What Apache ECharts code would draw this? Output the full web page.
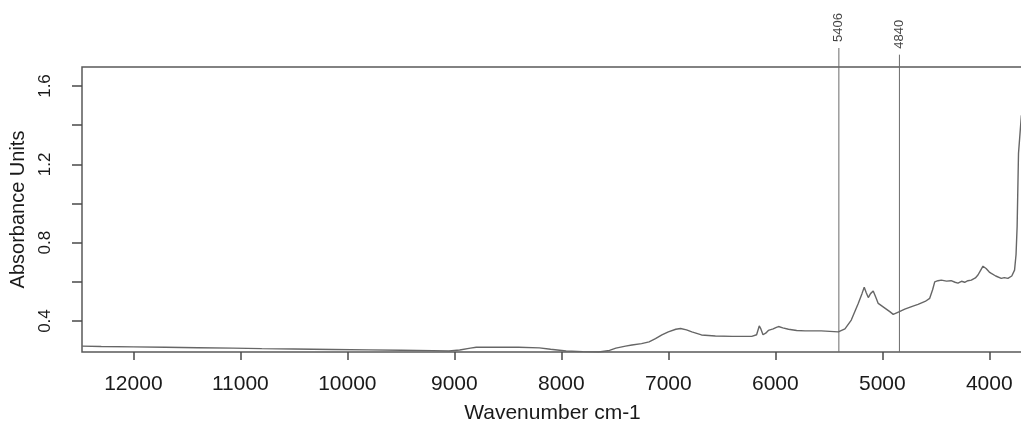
<!DOCTYPE html>
<html>
<head>
<meta charset="utf-8">
<script src="https://cdn.jsdelivr.net/npm/echarts@6/dist/echarts.min.js"></script>
<style>
  html, body { margin: 0; padding: 0; background: #fff; }
  #main { width: 1021px; height: 429px; }
</style>
</head>
<body>
<div id="main"></div>
<script>
// spectrum: wavenumber (cm-1) and absorbance
const wavenumbers = [
  12480, 12300, 12000, 11700, 11400, 11070, 10800, 10500, 10140, 9800,
  9500, 9200, 9050, 8950, 8850, 8795, 8600, 8400, 8205, 8100,
  7955, 7800, 7650, 7550, 7490, 7400, 7340, 7250, 7180, 7120,
  7060, 7000, 6930, 6885, 6830, 6780, 6690, 6560, 6400, 6220,
  6175, 6150, 6135, 6115, 6090, 6065, 6020, 5990, 5970, 5930,
  5877, 5800, 5722, 5570, 5411, 5349, 5290, 5225, 5190, 5169,
  5150, 5131, 5110, 5085, 5060, 5038, 4976, 4930, 4898, 4850,
  4790, 4720, 4666, 4600, 4557, 4530, 4510, 4480, 4448, 4400,
  4357, 4320, 4293, 4260, 4230, 4200, 4168, 4130, 4106, 4080,
  4059, 4030, 4000, 3981, 3940, 3888, 3860, 3826, 3790, 3764,
  3750, 3740, 3727, 3700
];
const absorbance = [
  0.272, 0.270, 0.268, 0.266, 0.264, 0.262, 0.259, 0.257, 0.255, 0.253,
  0.251, 0.249, 0.247, 0.252, 0.262, 0.266, 0.267, 0.266, 0.263, 0.256,
  0.247, 0.244, 0.242, 0.250, 0.262, 0.272, 0.278, 0.285, 0.294, 0.310,
  0.329, 0.345, 0.358, 0.362, 0.355, 0.345, 0.329, 0.324, 0.322, 0.322,
  0.330, 0.375, 0.360, 0.330, 0.338, 0.352, 0.360, 0.368, 0.372, 0.365,
  0.358, 0.352, 0.350, 0.350, 0.345, 0.360, 0.405, 0.490, 0.540, 0.572,
  0.545, 0.520, 0.540, 0.553, 0.520, 0.490, 0.466, 0.448, 0.434, 0.446,
  0.461, 0.475, 0.485, 0.500, 0.516, 0.560, 0.600, 0.606, 0.609, 0.604,
  0.606, 0.598, 0.594, 0.603, 0.598, 0.606, 0.609, 0.620, 0.635, 0.660,
  0.680, 0.668, 0.650, 0.643, 0.630, 0.618, 0.622, 0.618, 0.630, 0.660,
  0.740, 0.880, 1.257, 1.450
];
// marked bands and the top of their guide lines
const peakWn = [5406, 4840];
const peakTop = [1.794, 1.76];

const xTicks = [4000, 5000, 6000, 7000, 8000, 9000, 10000, 11000, 12000];
const yTicks = [0.4, 0.6, 0.8, 1.0, 1.2, 1.4, 1.6];
const yLabels = [0.4, 0.8, 1.2, 1.6];

const yMin = 0.242;
const font = '"Liberation Sans", Arial, Helvetica, sans-serif';

// one vertical guide line per marked band, drawn past the top of the frame
const guideSeries = peakWn.map((w, i) => ({
  name: "guide " + w,
  type: "line",
  clip: false,
  symbol: "none",
  data: [[w, yMin], [w, peakTop[i]]],
  lineStyle: { color: "#6b6b6b", width: 1 },
  z: 2,
}));

let chart = echarts.init(document.getElementById("main"));
chart.setOption({
  backgroundColor: "#fff",
  animation: false,
  grid: {
    left: 82,
    right: -2,
    top: 67,
    bottom: 77,
    outerBoundsMode: "none",
    containLabel: false,
    show: true,
    borderColor: "#5a5a5a",
    borderWidth: 1.5,
  },
  xAxis: {
    type: "value",
    inverse: true,
    min: 3685,
    max: 12480,
    name: "Wavenumber cm-1",
    nameLocation: "middle",
    nameGap: 51,
    nameTextStyle: { fontFamily: font, fontSize: 21, color: "#1a1a1a" },
    axisLine: { show: false },
    splitLine: { show: false },
    axisTick: {
      show: true,
      inside: false,
      length: 8,
      customValues: xTicks,
      lineStyle: { color: "#4a4a4a", width: 1.5 },
    },
    axisLabel: {
      customValues: xTicks,
      margin: 22,
      fontFamily: font,
      fontSize: 21,
      color: "#1a1a1a",
      formatter: (v) => String(v),
    },
  },
  yAxis: {
    type: "value",
    min: yMin,
    max: 1.697,
    name: "Absorbance Units",
    nameLocation: "middle",
    nameRotate: 90,
    nameGap: 54,
    nameTextStyle: { fontFamily: font, fontSize: 20, color: "#1a1a1a" },
    axisLine: { show: false },
    splitLine: { show: false },
    axisTick: {
      show: true,
      inside: false,
      length: 10,
      customValues: yTicks,
      lineStyle: { color: "#4a4a4a", width: 1.5 },
    },
    axisLabel: {
      customValues: yLabels,
      rotate: 90,
      margin: 28,
      fontFamily: font,
      fontSize: 17,
      color: "#1a1a1a",
      formatter: (v) => v.toFixed(1),
    },
  },
  series: [
    {
      name: "spectrum",
      type: "line",
      data: wavenumbers.map((w, i) => [w, absorbance[i]]),
      showSymbol: false,
      symbol: "none",
      lineStyle: { color: "#666", width: 1.4 },
      z: 3,
    },
    ...guideSeries,
    {
      name: "bands",
      type: "scatter",
      clip: false,
      symbolSize: 0,
      data: peakWn.map((w, i) => [w, peakTop[i]]),
      label: {
        show: true,
        position: "top",
        distance: 6,
        rotate: 90,
        align: "left",
        verticalAlign: "middle",
        fontFamily: font,
        fontSize: 13,
        color: "#111",
        formatter: (p) => String(p.value[0]),
      },
    },
  ],
});
</script>
</body>
</html>
